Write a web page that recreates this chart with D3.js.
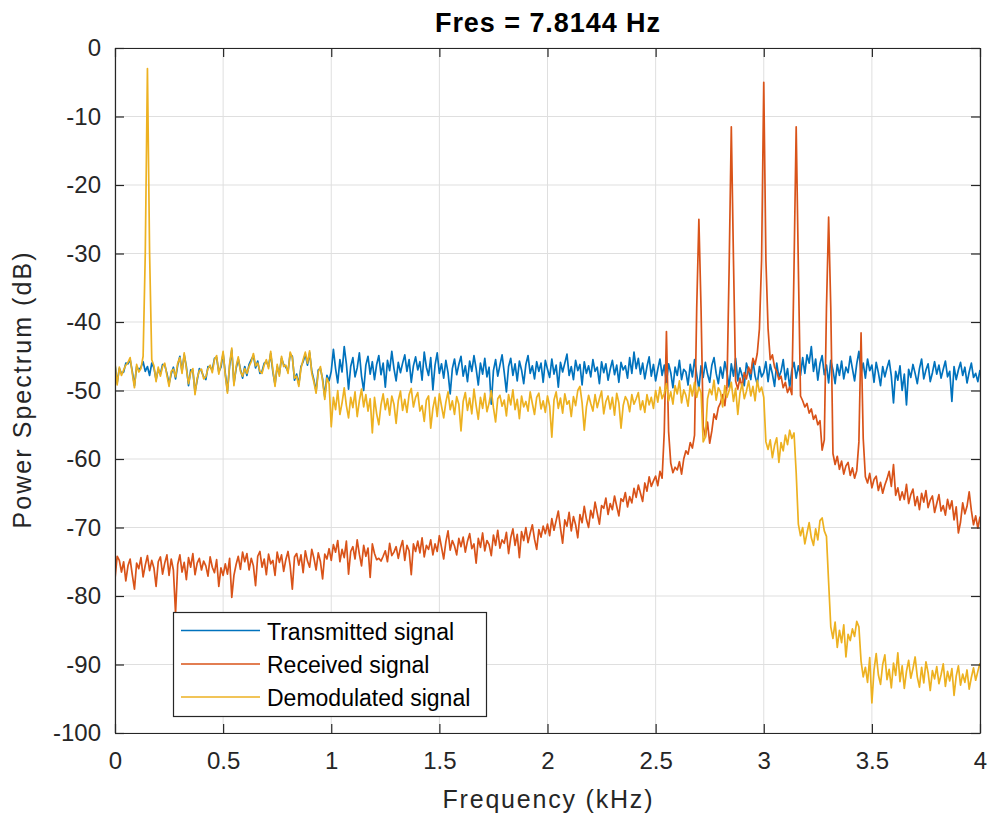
<!DOCTYPE html>
<html><head><meta charset="utf-8">
<script src="https://cdn.jsdelivr.net/npm/d3@7"></script>
<style>body{margin:0;background:#fff}</style>
</head><body><svg id="chart" width="990" height="819"></svg>
<script>
// ---------- DATA ----------
const freqStepKHz = 0.01; // one sample every 10 Hz, 0 .. 4 kHz
const xTicks = [0, 0.5, 1, 1.5, 2, 2.5, 3, 3.5, 4];
const xTickLabels = ["0", "0.5", "1", "1.5", "2", "2.5", "3", "3.5", "4"];
const yTicks = [0, -10, -20, -30, -40, -50, -60, -70, -80, -90, -100];
const yTickLabels = ["0", "-10", "-20", "-30", "-40", "-50", "-60", "-70", "-80", "-90", "-100"];
const seriesNames = ["Transmitted signal", "Received signal", "Demodulated signal"];
const titleText = "Fres = 7.8144 Hz";
const xLabelText = "Frequency (kHz)";
const yLabelText = "Power Spectrum (dB)";

const transmitted = [
-46.2,-48.9,-46.8,-47.5,-47.3,-46.0,-46.1,-45.5,-47.2,-49.3,-46.5,-47.0,-46.6,-45.8,-47.2,-46.5,-47.8,-46.0,-46.7,-48.4,
-46.9,-47.6,-46.2,-46.3,-47.5,-49.0,-47.6,-46.6,-48.3,-46.3,-45.0,-47.2,-44.8,-46.5,-49.3,-47.0,-47.1,-50.2,-48.5,-46.8,
-47.2,-48.0,-48.4,-46.5,-46.6,-47.0,-45.3,-45.2,-47.3,-46.6,-44.6,-47.5,-50.1,-46.4,-44.1,-49.0,-46.8,-45.4,-46.9,-48.2,
-46.5,-47.8,-46.2,-45.5,-44.9,-46.7,-45.7,-47.5,-47.2,-46.0,-45.8,-46.5,-44.6,-47.3,-49.1,-46.5,-47.6,-45.3,-46.2,-46.6,
-47.2,-44.7,-45.0,-48.5,-47.6,-49.1,-46.5,-45.8,-44.7,-46.3,-44.5,-47.2,-48.5,-50.1,-47.0,-46.8,-48.3,-50.9,-47.8,-48.6,
-47.2,-44.0,-46.8,-48.9,-45.5,-47.3,-43.6,-46.1,-49.8,-46.5,-45.2,-48.0,-46.7,-44.5,-47.9,-50.0,-46.3,-45.0,-47.6,-45.8,
-48.4,-46.2,-44.9,-47.7,-46.0,-49.5,-45.6,-47.1,-44.3,-46.8,-48.6,-45.9,-47.4,-46.0,-44.8,-47.2,-45.5,-48.8,-46.4,-45.1,
-47.0,-45.8,-48.5,-44.4,-46.6,-47.8,-45.2,-49.9,-46.3,-44.5,-47.5,-46.1,-48.2,-45.6,-47.4,-50.5,-46.8,-45.4,-47.7,-46.2,
-45.0,-47.9,-46.4,-48.7,-45.7,-47.2,-44.9,-46.8,-49.2,-46.0,-47.6,-45.3,-48.0,-46.6,-52.0,-47.1,-45.5,-47.9,-46.3,-44.8,
-47.4,-50.2,-46.5,-45.3,-47.8,-46.1,-48.6,-45.7,-47.0,-49.0,-46.2,-44.9,-47.5,-46.4,-48.3,-45.8,-47.2,-46.0,-48.8,-45.6,
-46.9,-48.1,-45.4,-47.6,-46.3,-49.5,-45.9,-47.3,-46.0,-44.7,-47.8,-46.5,-48.4,-45.6,-47.1,-46.2,-49.2,-45.8,-47.5,-46.4,
-48.0,-45.5,-47.2,-46.6,-49.0,-45.8,-47.4,-46.1,-48.5,-46.9,-45.6,-47.7,-46.3,-48.8,-45.9,-47.0,-46.4,-48.2,-45.2,-47.5,
-44.4,-46.8,-45.3,-47.6,-46.0,-48.3,-46.5,-45.1,-47.9,-46.2,-48.6,-46.9,-45.4,-47.8,-46.3,-48.9,-46.1,-47.4,-49.6,-46.6,
-47.8,-45.6,-48.4,-46.9,-47.3,-49.2,-46.2,-48.0,-45.5,-47.7,-49.8,-46.4,-48.1,-45.9,-47.6,-48.8,-46.3,-45.2,-47.5,-49.0,
-46.6,-48.2,-45.8,-47.4,-49.5,-46.1,-47.9,-45.3,-48.6,-46.7,-47.8,-49.3,-46.0,-47.2,-48.4,-45.6,-47.9,-49.1,-46.5,-48.0,
-47.4,-45.8,-48.7,-46.2,-47.6,-49.4,-46.0,-48.1,-47.2,-45.5,-48.4,-46.8,-49.6,-47.0,-45.9,-48.2,-46.4,-47.8,-45.2,-47.5,
-44.8,-46.0,-43.6,-47.2,-45.4,-48.5,-46.1,-44.9,-47.7,-46.3,-48.9,-45.6,-47.0,-49.0,-46.2,-47.8,-45.7,-48.3,-46.6,-47.4,
-45.0,-46.8,-48.6,-46.1,-44.3,-47.5,-46.0,-48.2,-45.4,-47.1,-46.3,-48.8,-45.9,-47.4,-49.3,-46.5,-48.0,-46.7,-45.6,-47.9,
-51.8,-47.2,-48.5,-46.4,-50.0,-47.6,-52.1,-46.9,-48.1,-46.2,-47.5,-49.0,-46.8,-45.4,-48.3,-47.0,-46.1,-48.7,-47.4,-45.8,
-47.6,-46.3,-48.2,-46.9,-45.7,-48.0,-47.2,-51.6,-46.5,-48.4,-47.0,-45.9,-47.8,-46.6,-48.9,-47.3,-46.0,-48.1,-47.5,-48.7,
-47.0
];

const received = [
-77.5,-74.2,-74.8,-76.5,-75.0,-77.8,-75.6,-74.6,-76.9,-79.0,-75.2,-76.0,-74.4,-77.2,-75.5,-74.1,-76.3,-74.8,-75.9,-78.6,
-75.0,-74.3,-76.8,-75.2,-74.0,-77.0,-74.6,-76.2,-82.6,-75.4,-74.0,-76.5,-75.1,-77.6,-74.4,-75.8,-73.8,-76.9,-75.2,-74.5,
-76.2,-74.9,-75.6,-77.1,-74.3,-75.8,-76.6,-74.7,-78.6,-75.9,-77.0,-75.3,-76.8,-74.5,-80.2,-77.0,-75.4,-74.2,-76.1,-73.6,
-75.0,-73.8,-76.2,-74.5,-75.6,-78.5,-74.2,-73.5,-75.8,-74.6,-76.9,-73.9,-75.3,-74.8,-77.0,-73.6,-75.1,-74.0,-76.4,-74.7,
-73.5,-75.6,-79.0,-74.3,-73.8,-75.5,-74.0,-76.6,-73.4,-74.9,-75.8,-73.2,-74.5,-76.2,-73.7,-75.0,-77.5,-73.9,-74.6,-73.1,
-74.8,-72.5,-73.6,-71.9,-75.0,-73.2,-74.4,-72.0,-76.8,-73.5,-72.8,-74.6,-71.8,-73.9,-75.6,-72.6,-74.2,-73.0,-77.3,-72.4,
-73.8,-74.7,-74.5,-74.9,-74.2,-73.4,-75.0,-72.3,-74.1,-73.6,-72.8,-74.5,-73.0,-71.9,-74.8,-72.6,-73.4,-76.9,-72.4,-73.5,
-72.0,-73.7,-71.5,-74.3,-72.6,-73.2,-71.8,-74.0,-72.4,-73.5,-71.2,-72.9,-74.6,-72.1,-70.5,-73.3,-71.9,-72.7,-74.0,-71.6,
-72.8,-71.4,-73.6,-72.0,-70.9,-73.1,-72.4,-75.2,-71.6,-72.9,-70.8,-73.4,-71.9,-72.5,-74.1,-71.1,-72.6,-70.4,-73.0,-71.8,
-72.3,-70.7,-73.8,-71.5,-70.2,-72.6,-71.0,-74.4,-70.6,-71.9,-70.0,-72.2,-70.8,-69.6,-71.7,-73.2,-70.3,-71.4,-69.8,-70.9,
-69.5,-71.2,-68.7,-70.4,-69.0,-67.6,-70.1,-72.3,-68.9,-69.8,-67.8,-70.5,-68.4,-69.6,-71.5,-68.1,-69.3,-66.9,-68.8,-70.0,
-67.5,-68.6,-66.3,-67.9,-69.5,-66.8,-67.2,-65.7,-68.1,-66.5,-67.4,-65.4,-66.9,-68.3,-65.8,-66.2,-64.9,-67.0,-65.5,-66.4,
-64.3,-65.6,-63.8,-65.0,-66.2,-63.5,-64.7,-62.6,-64.0,-63.2,-62.5,-63.9,-61.8,-62.8,-56.0,-41.4,-56.0,-60.6,-62.0,-61.2,
-61.6,-60.4,-62.2,-60.0,-58.8,-59.3,-57.6,-58.4,-56.5,-38.0,-25.0,-38.0,-55.2,-56.8,-54.6,-57.7,-55.9,-53.4,-54.2,-52.5,
-51.8,-50.6,-52.2,-49.4,-32.0,-11.5,-31.0,-48.6,-49.8,-48.2,-49.5,-47.4,-48.3,-46.6,-47.5,-45.3,-46.2,-44.6,-41.0,-31.0,
-5.0,-31.0,-41.0,-45.5,-44.8,-46.6,-47.2,-48.4,-47.9,-49.6,-48.8,-50.3,-49.5,-50.6,-32.0,-11.5,-32.0,-50.8,-51.5,-52.4,
-51.9,-53.3,-52.7,-54.2,-53.6,-55.0,-54.4,-58.7,-57.2,-38.0,-24.7,-38.0,-59.2,-60.8,-59.6,-61.5,-60.3,-62.2,-61.0,-60.5,
-62.4,-61.3,-62.8,-61.7,-57.5,-41.6,-57.0,-62.6,-63.5,-62.1,-64.2,-63.0,-62.5,-64.6,-63.4,-65.0,-63.8,-62.9,-61.8,-64.0,
-60.8,-65.3,-64.2,-66.0,-64.8,-65.9,-63.7,-66.5,-65.2,-64.4,-66.8,-65.5,-67.4,-65.0,-66.3,-64.6,-67.1,-66.0,-65.4,-67.8,
-66.5,-65.2,-67.6,-66.8,-68.2,-65.9,-67.3,-66.1,-68.9,-67.0,-70.8,-69.2,-66.4,-68.0,-66.9,-64.8,-67.5,-69.6,-68.3,-70.1,
-68.4
];

const demodulated = [
-46.0,-49.2,-46.6,-47.8,-47.0,-46.3,-45.9,-45.2,-47.5,-49.6,-46.2,-47.3,-46.8,-45.0,-30.0,-3.0,-30.0,-45.5,-46.4,-48.7,
-46.6,-47.9,-46.5,-46.0,-47.8,-49.4,-47.2,-46.9,-48.0,-46.0,-45.2,-47.5,-44.5,-46.8,-49.0,-47.4,-46.8,-50.6,-48.2,-47.1,
-46.9,-48.3,-48.0,-46.8,-46.3,-47.4,-45.5,-44.9,-47.6,-46.2,-44.3,-47.8,-50.4,-46.1,-43.8,-49.3,-46.5,-45.1,-47.2,-47.9,
-46.8,-47.5,-46.5,-45.8,-44.6,-46.4,-46.0,-47.2,-47.5,-46.3,-45.5,-46.8,-44.3,-47.0,-49.4,-46.2,-47.9,-45.0,-46.5,-46.3,
-47.5,-44.4,-45.2,-48.2,-47.9,-49.4,-46.8,-45.5,-44.4,-46.0,-44.2,-47.5,-48.8,-50.4,-47.3,-46.5,-48.6,-51.3,-48.2,-49.0,
-55.3,-51.0,-52.8,-50.0,-53.5,-51.8,-49.6,-52.2,-54.0,-51.0,-52.5,-50.2,-53.8,-51.5,-49.8,-52.4,-50.6,-53.0,-51.2,-56.2,
-51.0,-53.4,-55.0,-52.1,-50.5,-52.8,-51.2,-53.6,-50.8,-52.0,-54.8,-51.5,-50.1,-52.9,-51.3,-53.2,-50.6,-49.7,-52.4,-51.0,
-50.3,-53.0,-52.2,-54.5,-51.4,-50.8,-55.5,-52.6,-51.0,-53.8,-50.5,-52.3,-54.0,-51.7,-50.2,-52.8,-51.5,-53.5,-50.9,-52.0,
-55.9,-51.6,-50.3,-52.9,-51.1,-53.4,-49.8,-52.2,-54.2,-51.0,-52.6,-50.4,-53.1,-51.8,-50.0,-52.5,-54.6,-51.2,-50.7,-52.3,
-51.4,-53.7,-50.6,-52.1,-49.9,-52.8,-51.3,-54.1,-50.8,-52.4,-51.6,-53.0,-50.2,-51.9,-53.5,-51.0,-50.4,-52.7,-51.5,-53.2,
-50.8,-52.3,-56.8,-51.4,-50.2,-52.6,-51.1,-53.3,-50.5,-52.0,-51.5,-53.8,-50.9,-52.2,-50.0,-49.4,-51.8,-55.8,-52.4,-50.7,
-51.9,-53.0,-50.6,-52.5,-51.2,-50.1,-53.4,-51.6,-50.8,-52.7,-51.0,-53.6,-50.4,-51.8,-55.5,-52.2,-50.9,-51.5,-53.1,-50.6,
-52.0,-51.2,-50.3,-52.8,-51.5,-53.2,-50.6,-52.1,-51.0,-52.6,-50.0,-51.7,-49.5,-51.2,-50.4,-49.0,-51.5,-50.2,-52.0,-49.3,
-50.5,-48.6,-51.8,-49.9,-50.7,-52.3,-49.2,-50.8,-48.8,-51.0,-49.5,-50.3,-57.5,-56.8,-51.2,-49.8,-50.6,-48.5,-51.4,-49.6,
-50.2,-52.4,-49.3,-51.0,-50.0,-48.8,-51.6,-49.7,-53.5,-50.4,-49.0,-51.2,-50.1,-48.6,-50.8,-49.4,-51.5,-48.5,-50.2,-49.5,
-51.0,-57.5,-58.6,-57.2,-59.8,-58.0,-56.9,-60.5,-57.6,-58.8,-56.5,-57.9,-55.8,-57.0,-56.2,-62.0,-69.5,-71.2,-70.0,-72.4,
-70.8,-69.3,-71.5,-72.6,-70.2,-71.8,-69.0,-68.6,-70.5,-71.3,-78.0,-84.5,-86.2,-83.8,-87.5,-85.0,-86.8,-84.2,-88.9,-85.6,
-86.5,-84.8,-85.9,-83.7,-84.5,-89.5,-91.8,-90.4,-92.6,-89.0,-95.6,-90.8,-88.4,-91.5,-92.9,-90.0,-88.6,-92.2,-90.7,-93.4,
-89.8,-91.6,-88.3,-92.5,-90.2,-93.5,-91.0,-89.4,-92.0,-90.6,-88.9,-91.8,-93.3,-90.4,-92.7,-89.6,-91.2,-93.8,-90.9,-92.1,
-90.3,-92.8,-91.5,-89.9,-93.2,-91.0,-92.4,-90.6,-94.5,-91.7,-90.2,-93.0,-91.4,-92.6,-90.8,-93.6,-91.9,-90.5,-92.3,-91.0,
-89.8
];

const seriesColors = ["#0072BD", "#D95319", "#EDB120"];

// ---------- CHART ----------
const svg = d3.select("#chart");
const font = "'Liberation Sans', Arial, Helvetica, sans-serif";
const plot = {left: 115, right: 980, top: 48, bottom: 733};
const x = d3.scaleLinear().domain([0, 4]).range([plot.left, plot.right]);
const y = d3.scaleLinear().domain([-100, 0]).range([plot.bottom, plot.top]);

svg.append("rect").attr("width", 990).attr("height", 819).attr("fill", "#fff");

// grid
const grid = svg.append("g").attr("stroke", "#dfdfdf").attr("stroke-width", 1);
xTicks.forEach(t => grid.append("line").attr("x1", x(t)).attr("x2", x(t)).attr("y1", plot.top).attr("y2", plot.bottom));
yTicks.forEach(t => grid.append("line").attr("x1", plot.left).attr("x2", plot.right).attr("y1", y(t)).attr("y2", y(t)));

// clip
svg.append("clipPath").attr("id", "clip").append("rect")
  .attr("x", plot.left).attr("y", plot.top).attr("width", plot.right - plot.left).attr("height", plot.bottom - plot.top);

const line = d3.line().x((d, i) => x(i * freqStepKHz)).y(d => y(d));
const gLines = svg.append("g").attr("clip-path", "url(#clip)");
[transmitted, received, demodulated].forEach((s, k) => {
  gLines.append("path").datum(s).attr("d", line)
    .attr("fill", "none").attr("stroke", seriesColors[k])
    .attr("stroke-width", 1.7).attr("stroke-linejoin", "round");
});

// axes
function styleAxis(g) {
  g.selectAll("path.domain").attr("stroke", "#262626").attr("stroke-width", 1.2);
  g.selectAll(".tick line").attr("stroke", "#262626").attr("stroke-width", 1.2);
  g.selectAll(".tick text").attr("fill", "#262626").attr("font-size", "24px").attr("font-family", font);
}
svg.append("g").attr("transform", `translate(0,${plot.bottom})`)
  .call(d3.axisBottom(x).tickValues(xTicks).tickFormat((d, i) => xTickLabels[i]).tickSizeInner(-9).tickSizeOuter(0).tickPadding(19))
  .call(styleAxis);
svg.append("g").attr("transform", `translate(0,${plot.top})`)
  .call(d3.axisTop(x).tickValues(xTicks).tickFormat("").tickSizeInner(-9).tickSizeOuter(0))
  .call(styleAxis);
svg.append("g").attr("transform", `translate(${plot.left},0)`)
  .call(d3.axisLeft(y).tickValues(yTicks).tickFormat((d, i) => yTickLabels[i]).tickSizeInner(-9).tickSizeOuter(0).tickPadding(14))
  .call(styleAxis);
svg.append("g").attr("transform", `translate(${plot.right},0)`)
  .call(d3.axisRight(y).tickValues(yTicks).tickFormat("").tickSizeInner(-9).tickSizeOuter(0))
  .call(styleAxis);

// title & labels
svg.append("text").attr("x", (plot.left + plot.right) / 2).attr("y", 32)
  .attr("text-anchor", "middle").attr("font-family", font).attr("font-weight", "bold")
  .attr("font-size", "27px").attr("fill", "#000").attr("textLength", 225).attr("lengthAdjust", "spacing")
  .text(titleText);
svg.append("text").attr("x", (plot.left + plot.right) / 2).attr("y", 808)
  .attr("text-anchor", "middle").attr("font-family", font)
  .attr("font-size", "25px").attr("fill", "#262626").attr("textLength", 210).attr("lengthAdjust", "spacing")
  .text(xLabelText);
svg.append("text").attr("transform", `translate(31,${(plot.top + plot.bottom) / 2}) rotate(-90)`)
  .attr("text-anchor", "middle").attr("font-family", font)
  .attr("font-size", "25px").attr("fill", "#262626").attr("textLength", 276).attr("lengthAdjust", "spacing")
  .text(yLabelText);

// legend
const lg = svg.append("g");
lg.append("rect").attr("x", 173.5).attr("y", 612.5).attr("width", 313).attr("height", 104)
  .attr("fill", "#fff").attr("stroke", "#262626").attr("stroke-width", 1.2);
const rowY = [630.5, 664, 697];
seriesNames.forEach((name, k) => {
  lg.append("line").attr("x1", 181).attr("x2", 260).attr("y1", rowY[k]).attr("y2", rowY[k])
    .attr("stroke", seriesColors[k]).attr("stroke-width", 1.7);
  lg.append("text").attr("x", 267).attr("y", rowY[k] + 9)
    .attr("font-family", font).attr("font-size", "23px").attr("fill", "#000").text(name);
});
</script>
</body></html>
